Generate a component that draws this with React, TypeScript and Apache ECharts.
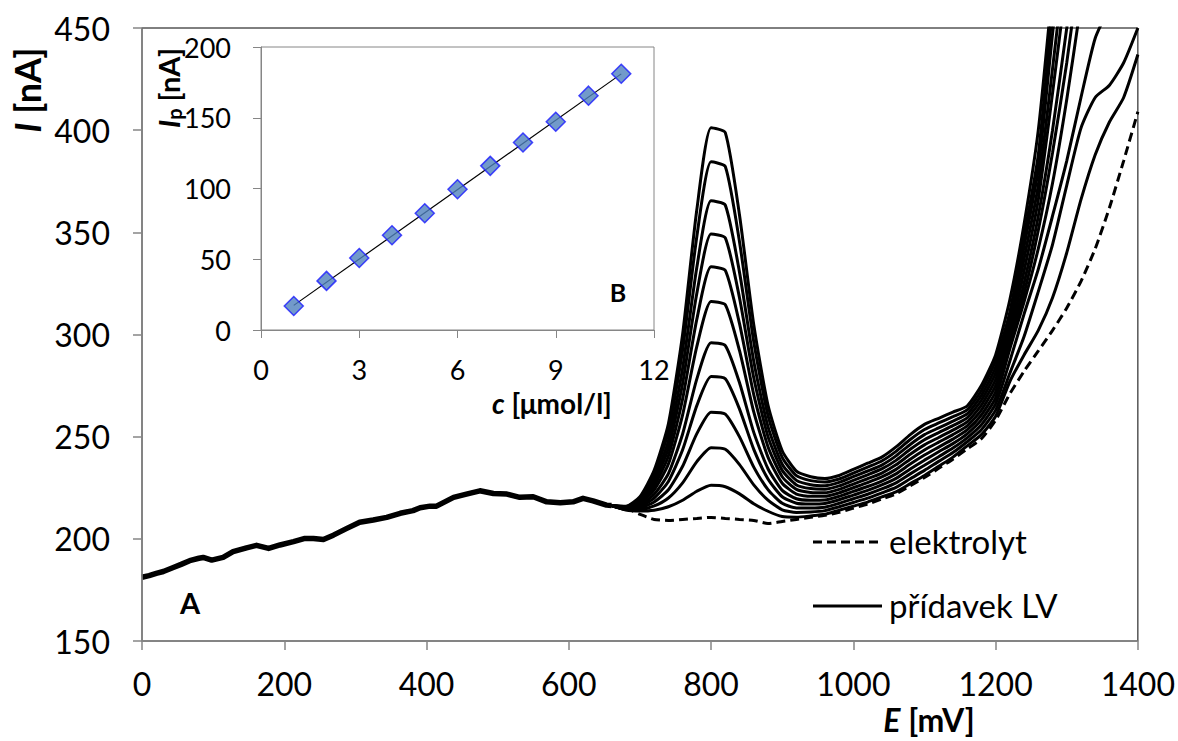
import React, { useEffect, useRef } from 'react';
import * as echarts from 'echarts';

const FONT = 'Lato, "Noto Sans", sans-serif';

// ---- main chart: common part of all curves (0–660 mV)
const baseE = [0, 10, 20, 30, 44, 55, 67, 80, 86, 98, 114, 128, 147, 161, 178, 194, 213, 229, 241, 255, 269, 288, 306, 325, 344, 363, 381, 391, 405, 414, 438, 456, 475, 494, 513, 531, 550, 569, 588, 606, 620, 634, 653, 660];
const baseI = [181.2, 182, 183.1, 184, 186, 187.5, 189.3, 190.5, 190.9, 189.6, 190.9, 193.7, 195.6, 196.8, 195.3, 197, 198.6, 200.2, 200.2, 199.7, 201.8, 205.1, 208.1, 209.2, 210.5, 212.5, 213.8, 215.2, 216, 216, 220.3, 221.9, 223.5, 222.2, 221.9, 220.3, 220.6, 218.1, 217.7, 218.1, 219.8, 218.6, 216.5, 216.3];

// ---- potentials of the diverging part (680–1400 mV)
const tailE = [680, 700, 720, 740, 760, 780, 800, 820, 840, 860, 880, 900, 920, 940, 960, 980, 1000, 1020, 1040, 1060, 1080, 1100, 1120, 1140, 1160, 1180, 1200, 1220, 1240, 1260, 1280, 1300, 1320, 1340, 1360, 1380, 1400];

const elektrolyt = [215, 212, 209.5, 209, 209.5, 210, 210.5, 210, 209.5, 209, 207.5, 208.5, 209.5, 210.5, 211.5, 213, 215, 217, 219.5, 222, 226, 230, 234.5, 239, 244, 249, 258, 271, 282, 292, 302, 313, 326, 342, 362, 385, 409];

const add1 = [214.1, 213.6, 214.0, 215.7, 218.9, 223.3, 226.2, 225.5, 222.0, 217.2, 213.5, 210.9, 210.6, 211.2, 212, 214, 216, 218, 220.5, 223, 227, 231, 235.5, 240, 245.5, 251, 260, 277, 290, 302, 318, 340, 366, 388, 404, 416, 437];
const add2 = [214.3, 214.3, 216.1, 220.0, 227.4, 237.8, 244.6, 243.8, 236.3, 226.4, 218.9, 214.2, 212.9, 213.1, 213.8, 215.7, 217.8, 219.9, 222.5, 225.2, 229.4, 233.5, 237.9, 242.2, 247.5, 253.4, 263, 281, 299, 321, 344, 373, 401, 416, 422, 433, 450];
const add3 = [214.5, 215, 218, 224, 235.5, 251.5, 262, 261, 249.9, 235.1, 224.1, 217.4, 215.1, 215.1, 215.5, 217.4, 219.6, 221.8, 224.4, 227.4, 231.8, 236, 240.2, 244.4, 249.4, 255.8, 266, 287, 310, 332, 358, 385, 416, 445, 460];
const add4 = [214.7, 215.7, 219.9, 228.1, 243.6, 265.2, 279.4, 278.3, 263.5, 243.8, 229.3, 220.6, 217.4, 217.0, 217.3, 219.1, 221.4, 223.7, 226.4, 229.6, 234.2, 238.5, 242.6, 246.6, 251.4, 258.2, 269, 293, 316, 342, 374, 415, 462];
const add5 = [214.8, 216.4, 221.8, 231.9, 251.3, 278.3, 296.0, 294.6, 276.4, 252.1, 234.3, 223.7, 219.6, 218.9, 219, 220.8, 223.2, 225.6, 228.3, 231.8, 236.6, 241, 244.9, 248.8, 253.3, 260.6, 272, 295, 320, 351, 389, 433, 485];
const add6 = [215.0, 217.2, 224.0, 236.6, 260.7, 294.2, 316.2, 314.6, 292.1, 262.1, 240.0, 227.2, 221.9, 220.8, 220.8, 222.5, 225, 227.5, 230.3, 234, 239, 243.5, 247.3, 251, 255.3, 263, 275, 297, 325, 358, 400, 450, 505];
const add7 = [215.2, 217.9, 225.9, 240.5, 268.5, 307.5, 333.1, 331.4, 305.3, 270.6, 245.1, 230.4, 224.2, 222.7, 222.5, 224.2, 226.8, 229.4, 232.2, 236.2, 241.4, 246, 249.6, 253.2, 257.2, 265.4, 278, 300, 331, 366, 418, 474];
const add8 = [215.4, 218.5, 227.7, 244.3, 276.0, 320.2, 349.2, 347.3, 317.9, 278.8, 250.0, 233.5, 226.4, 224.6, 224.3, 225.9, 228.6, 231.3, 234.2, 238.4, 243.8, 248.5, 252, 255.4, 259.2, 267.8, 281, 304, 337, 373, 430, 490];
const add9 = [215.5, 219.2, 229.5, 248.0, 283.5, 332.9, 365.4, 363.3, 330.4, 286.9, 254.9, 236.5, 228.6, 226.5, 226, 227.6, 230.4, 233.2, 236.1, 240.6, 246.2, 251, 254.3, 257.6, 261.1, 270.2, 284, 307, 343, 381, 447, 510];
const add10 = [215.7, 220.0, 231.6, 252.5, 292.4, 348.0, 384.5, 382.2, 345.3, 296.4, 260.4, 239.9, 230.9, 228.5, 227.8, 229.3, 232.2, 235.1, 238.1, 242.8, 248.6, 253.5, 256.7, 259.8, 263.1, 272.6, 287, 311, 348, 388, 460];
const add11 = [215.9, 220.6, 233.5, 256.3, 300.2, 361.2, 401.2, 398.8, 358.4, 304.8, 265.4, 243.1, 233.1, 230.4, 229.5, 231, 234, 237, 240, 245, 251, 256, 259, 262, 265, 275, 290, 317, 354, 400, 470];
const additions = [add1, add2, add3, add4, add5, add6, add7, add8, add9, add10, add11];

// ---- inset: calibration
const cVals = [1, 2, 3, 4, 5, 6, 7, 8, 9, 10, 11];
const ipVals = [17.0, 34.7, 50.9, 67.0, 82.5, 99.5, 116.0, 132.5, 147.2, 165.6, 181.1];
const trendC = [1, 11];
const trendIp = [17.4, 181.0];

const mainXTicks = { min: 0, max: 1400, interval: 200 };
const mainYTicks = { min: 150, max: 450, interval: 50 };
const insetXTicks = { min: 0, max: 12, interval: 3 };
const insetYTicks = { min: 0, max: 200, interval: 50 };

const legendNames = ['elektrolyt', 'přídavek LV'];

const zip = (xs: number[], ys: number[]) => ys.map((y, i) => [xs[i], y]);
const joinStart = [baseE[baseE.length - 1], baseI[baseI.length - 1]];

function buildOption() {
  const series: any[] = [];
  series.push({
    name: legendNames[0],
    type: 'line',
    xAxisIndex: 0,
    yAxisIndex: 0,
    data: [joinStart, ...zip(tailE, elektrolyt)],
    symbol: 'none',
    smooth: 0.2,
    clip: true,
    lineStyle: { color: '#000', width: 3, type: [9, 5] },
    z: 2,
  });
  additions.forEach((arr) => {
    series.push({
      name: legendNames[1],
      type: 'line',
      xAxisIndex: 0,
      yAxisIndex: 0,
      data: [joinStart, ...zip(tailE, arr)],
      symbol: 'none',
      smooth: 0.2,
      clip: true,
      lineStyle: { color: '#000', width: 3 },
      z: 3,
    });
  });
  series.push({
    name: 'společný průběh',
    type: 'line',
    xAxisIndex: 0,
    yAxisIndex: 0,
    data: zip(baseE, baseI),
    symbol: 'none',
    lineStyle: { color: '#000', width: 5.5, join: 'round' },
    z: 3,
  });
  series.push({
    name: 'trend',
    type: 'line',
    xAxisIndex: 1,
    yAxisIndex: 1,
    data: zip(trendC, trendIp),
    symbol: 'none',
    lineStyle: { color: '#000', width: 1.2 },
    z: 10,
  });
  series.push({
    name: 'Ip',
    type: 'scatter',
    xAxisIndex: 1,
    yAxisIndex: 1,
    data: zip(cVals, ipVals),
    symbol: 'diamond',
    symbolSize: 19,
    itemStyle: { color: '#4F81BD', borderColor: '#1a1aff', borderWidth: 1.5 },
    z: 11,
  });

  const gray = '#868686';
  const txt = (extra: any) => ({ color: '#000', fontFamily: FONT, ...extra });
  const plain = (v: number) => String(v);

  return {
    animation: false,
    backgroundColor: '#fff',
    grid: [
      { left: 142, top: 28, width: 996, height: 613, show: true, borderColor: '#000', borderWidth: 1, backgroundColor: 'transparent', z: 0 },
      { left: 261, top: 47, width: 393, height: 283, show: true, borderColor: gray, borderWidth: 1, backgroundColor: '#fff', z: 6 },
    ],
    xAxis: [
      {
        gridIndex: 0, type: 'value', ...mainXTicks,
        axisLine: { onZero: false, lineStyle: { color: gray, width: 1.5 } },
        axisTick: { show: true, inside: false, length: 9, lineStyle: { color: gray, width: 1.5 } },
        axisLabel: txt({ fontSize: 32, margin: 26, formatter: plain }),
        splitLine: { show: false },
        z: 4,
      },
      {
        gridIndex: 1, type: 'value', ...insetXTicks,
        axisLine: { onZero: false, lineStyle: { color: gray, width: 1 } },
        axisTick: { show: true, inside: false, length: 8, lineStyle: { color: gray } },
        axisLabel: txt({ fontSize: 27, margin: 26, formatter: plain }),
        splitLine: { show: false },
        z: 10,
      },
    ],
    yAxis: [
      {
        gridIndex: 0, type: 'value', ...mainYTicks,
        axisLine: { show: true, onZero: false, lineStyle: { color: gray, width: 1.5 } },
        axisTick: { show: true, inside: false, length: 9, lineStyle: { color: gray, width: 1.5 } },
        axisLabel: txt({ fontSize: 32, margin: 32, formatter: plain }),
        splitLine: { show: false },
        z: 4,
      },
      {
        gridIndex: 1, type: 'value', ...insetYTicks,
        axisLine: { show: true, onZero: false, lineStyle: { color: gray, width: 1 } },
        axisTick: { show: true, inside: false, length: 8, lineStyle: { color: gray } },
        axisLabel: txt({ fontSize: 27, margin: 30, formatter: plain }),
        splitLine: { show: false },
        z: 10,
      },
    ],
    graphic: [
      // legend
      { type: 'line', z: 20, shape: { x1: 813, y1: 542, x2: 882, y2: 542 }, style: { stroke: '#000', lineWidth: 3, lineDash: [9, 5] } },
      { type: 'text', x: 889, y: 541, z: 20, style: { text: legendNames[0], fill: '#000', fontFamily: FONT, fontSize: 33, align: 'left', verticalAlign: 'middle' } },
      { type: 'line', z: 20, shape: { x1: 813, y1: 606, x2: 882, y2: 606 }, style: { stroke: '#000', lineWidth: 3 } },
      { type: 'text', x: 889, y: 605, z: 20, style: { text: legendNames[1], fill: '#000', fontFamily: FONT, fontSize: 33, align: 'left', verticalAlign: 'middle' } },
      // axis titles
      {
        type: 'text', x: 27, y: 90, rotation: Math.PI / 2, z: 20,
        style: {
          text: '{i|I} [nA]', fill: '#000', fontFamily: FONT, fontSize: 36, fontWeight: 'bold',
          align: 'center', verticalAlign: 'middle',
          rich: { i: { fontStyle: 'italic', fontWeight: 'bold', fontSize: 36, fontFamily: FONT } },
        },
      },
      {
        type: 'text', x: 929, y: 719, z: 20,
        style: {
          text: '{i|E} [mV]', fill: '#000', fontFamily: FONT, fontSize: 32, fontWeight: 'bold',
          align: 'center', verticalAlign: 'middle',
          rich: { i: { fontStyle: 'italic', fontWeight: 'bold', fontSize: 32, fontFamily: FONT } },
        },
      },
      {
        type: 'text', x: 168, y: 88, rotation: Math.PI / 2, z: 20,
        style: {
          text: '{i|I}{s|p} [nA]', fill: '#000', fontFamily: FONT, fontSize: 29, fontWeight: 'bold',
          align: 'center', verticalAlign: 'middle',
          rich: {
            i: { fontStyle: 'italic', fontWeight: 'bold', fontSize: 29, fontFamily: FONT },
            s: { fontWeight: 'bold', fontSize: 20, fontFamily: FONT, padding: [12, 0, 0, 0] },
          },
        },
      },
      {
        type: 'text', x: 552, y: 403, z: 20,
        style: {
          text: '{i|c} [μmol/l]', fill: '#000', fontFamily: FONT, fontSize: 28, fontWeight: 'bold',
          align: 'center', verticalAlign: 'middle',
          rich: { i: { fontStyle: 'italic', fontWeight: 'bold', fontSize: 28, fontFamily: FONT } },
        },
      },
      {
        type: 'text', x: 618, y: 292, z: 20,
        style: { text: 'B', fill: '#000', fontFamily: FONT, fontSize: 25, fontWeight: 'bold', align: 'center', verticalAlign: 'middle' },
      },
      {
        type: 'text', x: 190, y: 602, z: 20,
        style: { text: 'A', fill: '#000', fontFamily: FONT, fontSize: 29, fontWeight: 'bold', align: 'center', verticalAlign: 'middle' },
      },
    ],
    series,
  };
}

export default function App() {
  const ref = useRef<HTMLDivElement>(null);
  useEffect(() => {
    if (!ref.current) return;
    const chart = echarts.init(ref.current, null, { renderer: 'svg' });
    chart.setOption(buildOption() as any);
    return () => chart.dispose();
  }, []);
  return (
    <div
      ref={ref}
      style={{ position: 'fixed', left: 0, top: 0, width: 1178, height: 741, background: '#fff' }}
    />
  );
}
